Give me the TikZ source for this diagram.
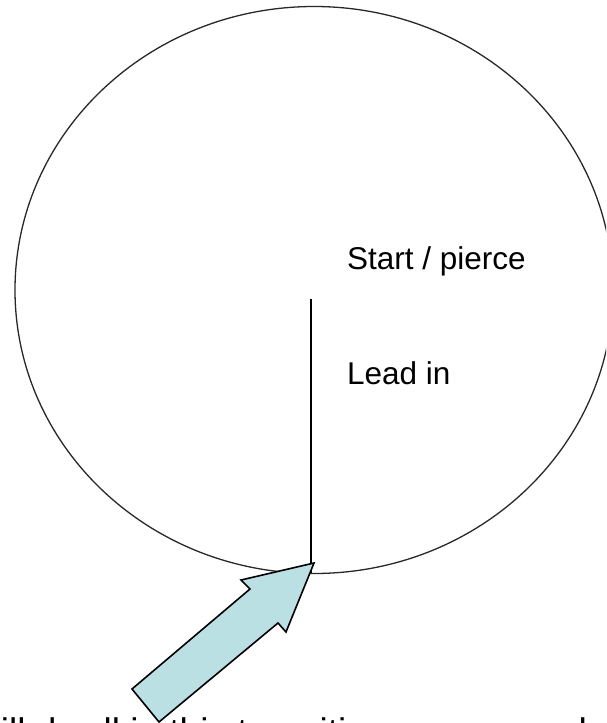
\documentclass[tikz,border=0pt]{standalone}
\usepackage{fontspec}
\usepackage{xcolor}
\usepackage{tikz}
\usetikzlibrary{positioning}
\newfontfamily\labelfont{Liberation Sans}
\definecolor{holegray}{RGB}{40,40,40}
\definecolor{calloutcyan}{RGB}{187,224,227}
\tikzset{
  holeline/.style={draw=holegray, line width=1.3pt},
  leadline/.style={draw=black, line width=1.3pt},
  callout/.style={draw=black, line width=1.6pt, fill=calloutcyan, line join=miter},
  note/.style={font=\labelfont\fontsize{31.5}{38}\selectfont, inner sep=0pt, anchor=base west},
  bignote/.style={note, font=\labelfont\fontsize{37}{44}\selectfont}
}

\begin{document}
\begin{tikzpicture}[x=1pt, y=-1pt]

\useasboundingbox (0,0) rectangle (606,723);
\clip (0,0) rectangle (606,723);

% the hole
\coordinate (centre) at (314,290);
\draw[holeline] (centre) ellipse [x radius=299, y radius=283.5];

% lead in from the pierce point down to the edge
\coordinate (pierce) at (311,299);
\coordinate (edge) at (311,573);
\draw[leadline] (pierce) -- (edge);

\node[note] (start) at (347,269) {Start / pierce};
\node[note] (leadin) at (347,384) {Lead in};

% callout arrow onto the transition point
\coordinate (tip) at (314,563);
\draw[callout] (132,689) -- (250,589) -- (241,580) -- (tip) -- (286,632)
  -- (278,623) -- (159,722) -- cycle;

% caption, cut off at the bottom
\node[bignote] (caption) at (-26,744) {will dwell in this transition zone, so a hole};

\end{tikzpicture}
\end{document}
